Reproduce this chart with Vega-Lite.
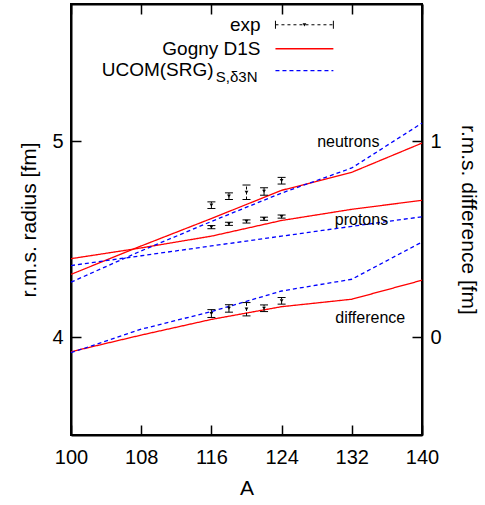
{
  "$schema": "https://vega.github.io/schema/vega-lite/v6.json",
  "width": 351,
  "height": 431,
  "autosize": {"type": "none"},
  "padding": {"left": 71, "top": 4, "right": 63, "bottom": 70},
  "background": "white",
  "config": {
    "font": "Liberation Sans",
    "view": {"stroke": "black", "strokeWidth": 2},
    "axis": {
      "grid": false,
      "domainColor": "black",
      "domainWidth": 2,
      "tickColor": "black",
      "tickWidth": 1.5,
      "tickSize": -10,
      "labelFont": "Liberation Sans",
      "labelFontSize": 20,
      "labelColor": "black",
      "labelFlush": false,
      "labelPadding": 18,
      "format": "d",
      "titleFont": "Liberation Sans",
      "titleFontSize": 21,
      "titleFontWeight": "normal",
      "titleColor": "black"
    }
  },
  "datasets": {
    "model": [
      {"A": 100, "model": "Gogny D1S", "part": "n", "r": 4.32},
      {"A": 108, "model": "Gogny D1S", "part": "n", "r": 4.465},
      {"A": 116, "model": "Gogny D1S", "part": "n", "r": 4.605},
      {"A": 124, "model": "Gogny D1S", "part": "n", "r": 4.749},
      {"A": 132, "model": "Gogny D1S", "part": "n", "r": 4.841},
      {"A": 140, "model": "Gogny D1S", "part": "n", "r": 4.99},
      {"A": 100, "model": "Gogny D1S", "part": "p", "r": 4.40},
      {"A": 108, "model": "Gogny D1S", "part": "p", "r": 4.455},
      {"A": 116, "model": "Gogny D1S", "part": "p", "r": 4.515},
      {"A": 124, "model": "Gogny D1S", "part": "p", "r": 4.595},
      {"A": 132, "model": "Gogny D1S", "part": "p", "r": 4.652},
      {"A": 140, "model": "Gogny D1S", "part": "p", "r": 4.698},
      {"A": 100, "model": "UCOM", "part": "n", "r": 4.28},
      {"A": 108, "model": "UCOM", "part": "n", "r": 4.44},
      {"A": 116, "model": "UCOM", "part": "n", "r": 4.59},
      {"A": 124, "model": "UCOM", "part": "n", "r": 4.735},
      {"A": 132, "model": "UCOM", "part": "n", "r": 4.863},
      {"A": 140, "model": "UCOM", "part": "n", "r": 5.092},
      {"A": 100, "model": "UCOM", "part": "p", "r": 4.365},
      {"A": 108, "model": "UCOM", "part": "p", "r": 4.415},
      {"A": 116, "model": "UCOM", "part": "p", "r": 4.465},
      {"A": 124, "model": "UCOM", "part": "p", "r": 4.515},
      {"A": 132, "model": "UCOM", "part": "p", "r": 4.565},
      {"A": 140, "model": "UCOM", "part": "p", "r": 4.614}
    ],
    "diffm": [
      {"A": 100, "model": "Gogny D1S", "d": -0.075},
      {"A": 108, "model": "Gogny D1S", "d": 0.01},
      {"A": 116, "model": "Gogny D1S", "d": 0.09},
      {"A": 124, "model": "Gogny D1S", "d": 0.155},
      {"A": 132, "model": "Gogny D1S", "d": 0.193},
      {"A": 140, "model": "Gogny D1S", "d": 0.29},
      {"A": 100, "model": "UCOM", "d": -0.08},
      {"A": 108, "model": "UCOM", "d": 0.04},
      {"A": 116, "model": "UCOM", "d": 0.13},
      {"A": 124, "model": "UCOM", "d": 0.235},
      {"A": 132, "model": "UCOM", "d": 0.295},
      {"A": 140, "model": "UCOM", "d": 0.485}
    ],
    "expnp": [
      {"A": 116, "part": "n", "r": 4.673, "lo": 4.656, "hi": 4.690},
      {"A": 118, "part": "n", "r": 4.719, "lo": 4.702, "hi": 4.736},
      {"A": 120, "part": "n", "r": 4.739, "lo": 4.702, "hi": 4.776},
      {"A": 122, "part": "n", "r": 4.743, "lo": 4.724, "hi": 4.762},
      {"A": 124, "part": "n", "r": 4.798, "lo": 4.781, "hi": 4.815},
      {"A": 116, "part": "p", "r": 4.561, "lo": 4.553, "hi": 4.569},
      {"A": 118, "part": "p", "r": 4.578, "lo": 4.570, "hi": 4.586},
      {"A": 120, "part": "p", "r": 4.590, "lo": 4.582, "hi": 4.598},
      {"A": 122, "part": "p", "r": 4.604, "lo": 4.596, "hi": 4.612},
      {"A": 124, "part": "p", "r": 4.615, "lo": 4.607, "hi": 4.623}
    ],
    "expd": [
      {"A": 116, "d": 0.12, "lo": 0.10, "hi": 0.14},
      {"A": 118, "d": 0.146, "lo": 0.127, "hi": 0.165},
      {"A": 120, "d": 0.142, "lo": 0.108, "hi": 0.176},
      {"A": 122, "d": 0.147, "lo": 0.13, "hi": 0.164},
      {"A": 124, "d": 0.185, "lo": 0.168, "hi": 0.202}
    ],
    "labels": [
      {"text": "neutrons", "A": 131.6, "r": 4.997},
      {"text": "protons", "A": 133.1, "r": 4.597}
    ],
    "dlabel": [
      {"text": "difference", "A": 134.1, "d": 0.097}
    ],
    "legtext": [
      {"text": "exp", "A": 121.6, "r": 5.594},
      {"text": "Gogny D1S", "A": 121.6, "r": 5.4715},
      {"text": "UCOM(SRG)", "A": 116.25, "r": 5.365}
    ],
    "legsub": [
      {"text": "S,δ3N", "A": 116.5, "r": 5.329}
    ],
    "legline": [
      {"model": "Gogny D1S", "A": 123.3, "A2": 129.9, "r": 5.4715},
      {"model": "UCOM", "A": 123.3, "A2": 129.9, "r": 5.36}
    ],
    "legexp": [
      {"A": 123.3, "A2": 129.9, "Am": 126.6, "r": 5.594}
    ]
  },
  "layer": [
    {
      "layer": [
        {
          "data": {"name": "model"},
          "mark": {"type": "line", "strokeWidth": 1.3},
          "encoding": {
            "x": {"field": "A", "type": "quantitative", "scale": {"domain": [100, 140], "nice": false, "zero": false},
                  "axis": {"orient": "bottom", "values": [100, 108, 116, 124, 132, 140], "title": "A", "labelPadding": 22, "titlePadding": 10}},
            "y": {"field": "r", "type": "quantitative", "scale": {"domain": [3.5, 5.7], "nice": false, "zero": false},
                  "axis": {"orient": "left", "values": [4, 5], "title": "r.m.s. radius [fm]", "titlePadding": 12}},
            "color": {"field": "model", "type": "nominal", "scale": {"domain": ["Gogny D1S", "UCOM"], "range": ["#ff0000", "#0000ff"]}, "legend": null},
            "strokeDash": {"field": "model", "type": "nominal", "scale": {"domain": ["Gogny D1S", "UCOM"], "range": [[1, 0], [4, 3]]}, "legend": null},
            "detail": {"field": "part"}
          }
        },
        {
          "data": {"name": "expnp"},
          "mark": {"type": "rule", "color": "black", "strokeWidth": 1, "strokeDash": [3, 2]},
          "encoding": {
            "x": {"field": "A", "type": "quantitative"},
            "y": {"field": "lo", "type": "quantitative"},
            "y2": {"field": "hi"}
          }
        },
        {
          "data": {"name": "expnp"},
          "mark": {"type": "tick", "orient": "horizontal", "color": "black", "size": 8, "thickness": 1, "opacity": 1},
          "encoding": {
            "x": {"field": "A", "type": "quantitative"},
            "y": {"field": "lo", "type": "quantitative"}
          }
        },
        {
          "data": {"name": "expnp"},
          "mark": {"type": "tick", "orient": "horizontal", "color": "black", "size": 8, "thickness": 1, "opacity": 1},
          "encoding": {
            "x": {"field": "A", "type": "quantitative"},
            "y": {"field": "hi", "type": "quantitative"}
          }
        },
        {
          "data": {"name": "expnp"},
          "mark": {"type": "point", "shape": "triangle-down", "filled": true, "color": "black", "size": 14, "opacity": 1},
          "encoding": {
            "x": {"field": "A", "type": "quantitative"},
            "y": {"field": "r", "type": "quantitative"}
          }
        },
        {
          "data": {"name": "labels"},
          "mark": {"type": "text", "fontSize": 16, "color": "black", "align": "center", "baseline": "middle"},
          "encoding": {
            "x": {"field": "A", "type": "quantitative"},
            "y": {"field": "r", "type": "quantitative"},
            "text": {"field": "text"}
          }
        },
        {
          "data": {"name": "legtext"},
          "mark": {"type": "text", "fontSize": 19, "color": "black", "align": "right", "baseline": "middle"},
          "encoding": {
            "x": {"field": "A", "type": "quantitative"},
            "y": {"field": "r", "type": "quantitative"},
            "text": {"field": "text"}
          }
        },
        {
          "data": {"name": "legsub"},
          "mark": {"type": "text", "fontSize": 15, "color": "black", "align": "left", "baseline": "middle"},
          "encoding": {
            "x": {"field": "A", "type": "quantitative"},
            "y": {"field": "r", "type": "quantitative"},
            "text": {"field": "text"}
          }
        },
        {
          "data": {"name": "legline"},
          "mark": {"type": "rule", "strokeWidth": 1.3},
          "encoding": {
            "x": {"field": "A", "type": "quantitative"},
            "x2": {"field": "A2"},
            "y": {"field": "r", "type": "quantitative"},
            "color": {"field": "model", "type": "nominal"},
            "strokeDash": {"field": "model", "type": "nominal"}
          }
        },
        {
          "data": {"name": "legexp"},
          "mark": {"type": "rule", "color": "black", "strokeWidth": 1, "strokeDash": [3, 3]},
          "encoding": {
            "x": {"field": "A", "type": "quantitative"},
            "x2": {"field": "A2"},
            "y": {"field": "r", "type": "quantitative"}
          }
        },
        {
          "data": {"name": "legexp"},
          "mark": {"type": "tick", "orient": "vertical", "color": "black", "size": 8, "thickness": 1, "opacity": 1},
          "encoding": {
            "x": {"field": "A", "type": "quantitative"},
            "y": {"field": "r", "type": "quantitative"}
          }
        },
        {
          "data": {"name": "legexp"},
          "mark": {"type": "tick", "orient": "vertical", "color": "black", "size": 8, "thickness": 1, "opacity": 1},
          "encoding": {
            "x": {"field": "A2", "type": "quantitative"},
            "y": {"field": "r", "type": "quantitative"}
          }
        },
        {
          "data": {"name": "legexp"},
          "mark": {"type": "point", "shape": "triangle-down", "filled": true, "color": "black", "size": 14, "opacity": 1},
          "encoding": {
            "x": {"field": "Am", "type": "quantitative"},
            "y": {"field": "r", "type": "quantitative"}
          }
        }
      ]
    },
    {
      "layer": [
        {
          "data": {"name": "diffm"},
          "mark": {"type": "line", "strokeWidth": 1.3},
          "encoding": {
            "x": {"field": "A", "type": "quantitative", "scale": {"domain": [100, 140], "nice": false, "zero": false},
                  "axis": {"orient": "top", "values": [100, 108, 116, 124, 132, 140], "labels": false, "title": null}},
            "y": {"field": "d", "type": "quantitative", "scale": {"domain": [-0.5, 1.7], "nice": false, "zero": false},
                  "axis": {"orient": "right", "values": [0, 1], "title": "r.m.s. difference [fm]", "titlePadding": 16}},
            "color": {"field": "model", "type": "nominal"},
            "strokeDash": {"field": "model", "type": "nominal"}
          }
        },
        {
          "data": {"name": "expd"},
          "mark": {"type": "rule", "color": "black", "strokeWidth": 1, "strokeDash": [3, 2]},
          "encoding": {
            "x": {"field": "A", "type": "quantitative"},
            "y": {"field": "lo", "type": "quantitative"},
            "y2": {"field": "hi"}
          }
        },
        {
          "data": {"name": "expd"},
          "mark": {"type": "tick", "orient": "horizontal", "color": "black", "size": 8, "thickness": 1, "opacity": 1},
          "encoding": {
            "x": {"field": "A", "type": "quantitative"},
            "y": {"field": "lo", "type": "quantitative"}
          }
        },
        {
          "data": {"name": "expd"},
          "mark": {"type": "tick", "orient": "horizontal", "color": "black", "size": 8, "thickness": 1, "opacity": 1},
          "encoding": {
            "x": {"field": "A", "type": "quantitative"},
            "y": {"field": "hi", "type": "quantitative"}
          }
        },
        {
          "data": {"name": "expd"},
          "mark": {"type": "point", "shape": "triangle-down", "filled": true, "color": "black", "size": 14, "opacity": 1},
          "encoding": {
            "x": {"field": "A", "type": "quantitative"},
            "y": {"field": "d", "type": "quantitative"}
          }
        },
        {
          "data": {"name": "dlabel"},
          "mark": {"type": "text", "fontSize": 16, "color": "black", "align": "center", "baseline": "middle"},
          "encoding": {
            "x": {"field": "A", "type": "quantitative"},
            "y": {"field": "d", "type": "quantitative"},
            "text": {"field": "text"}
          }
        }
      ]
    }
  ],
  "resolve": {"scale": {"y": "independent", "x": "independent"}}
}
